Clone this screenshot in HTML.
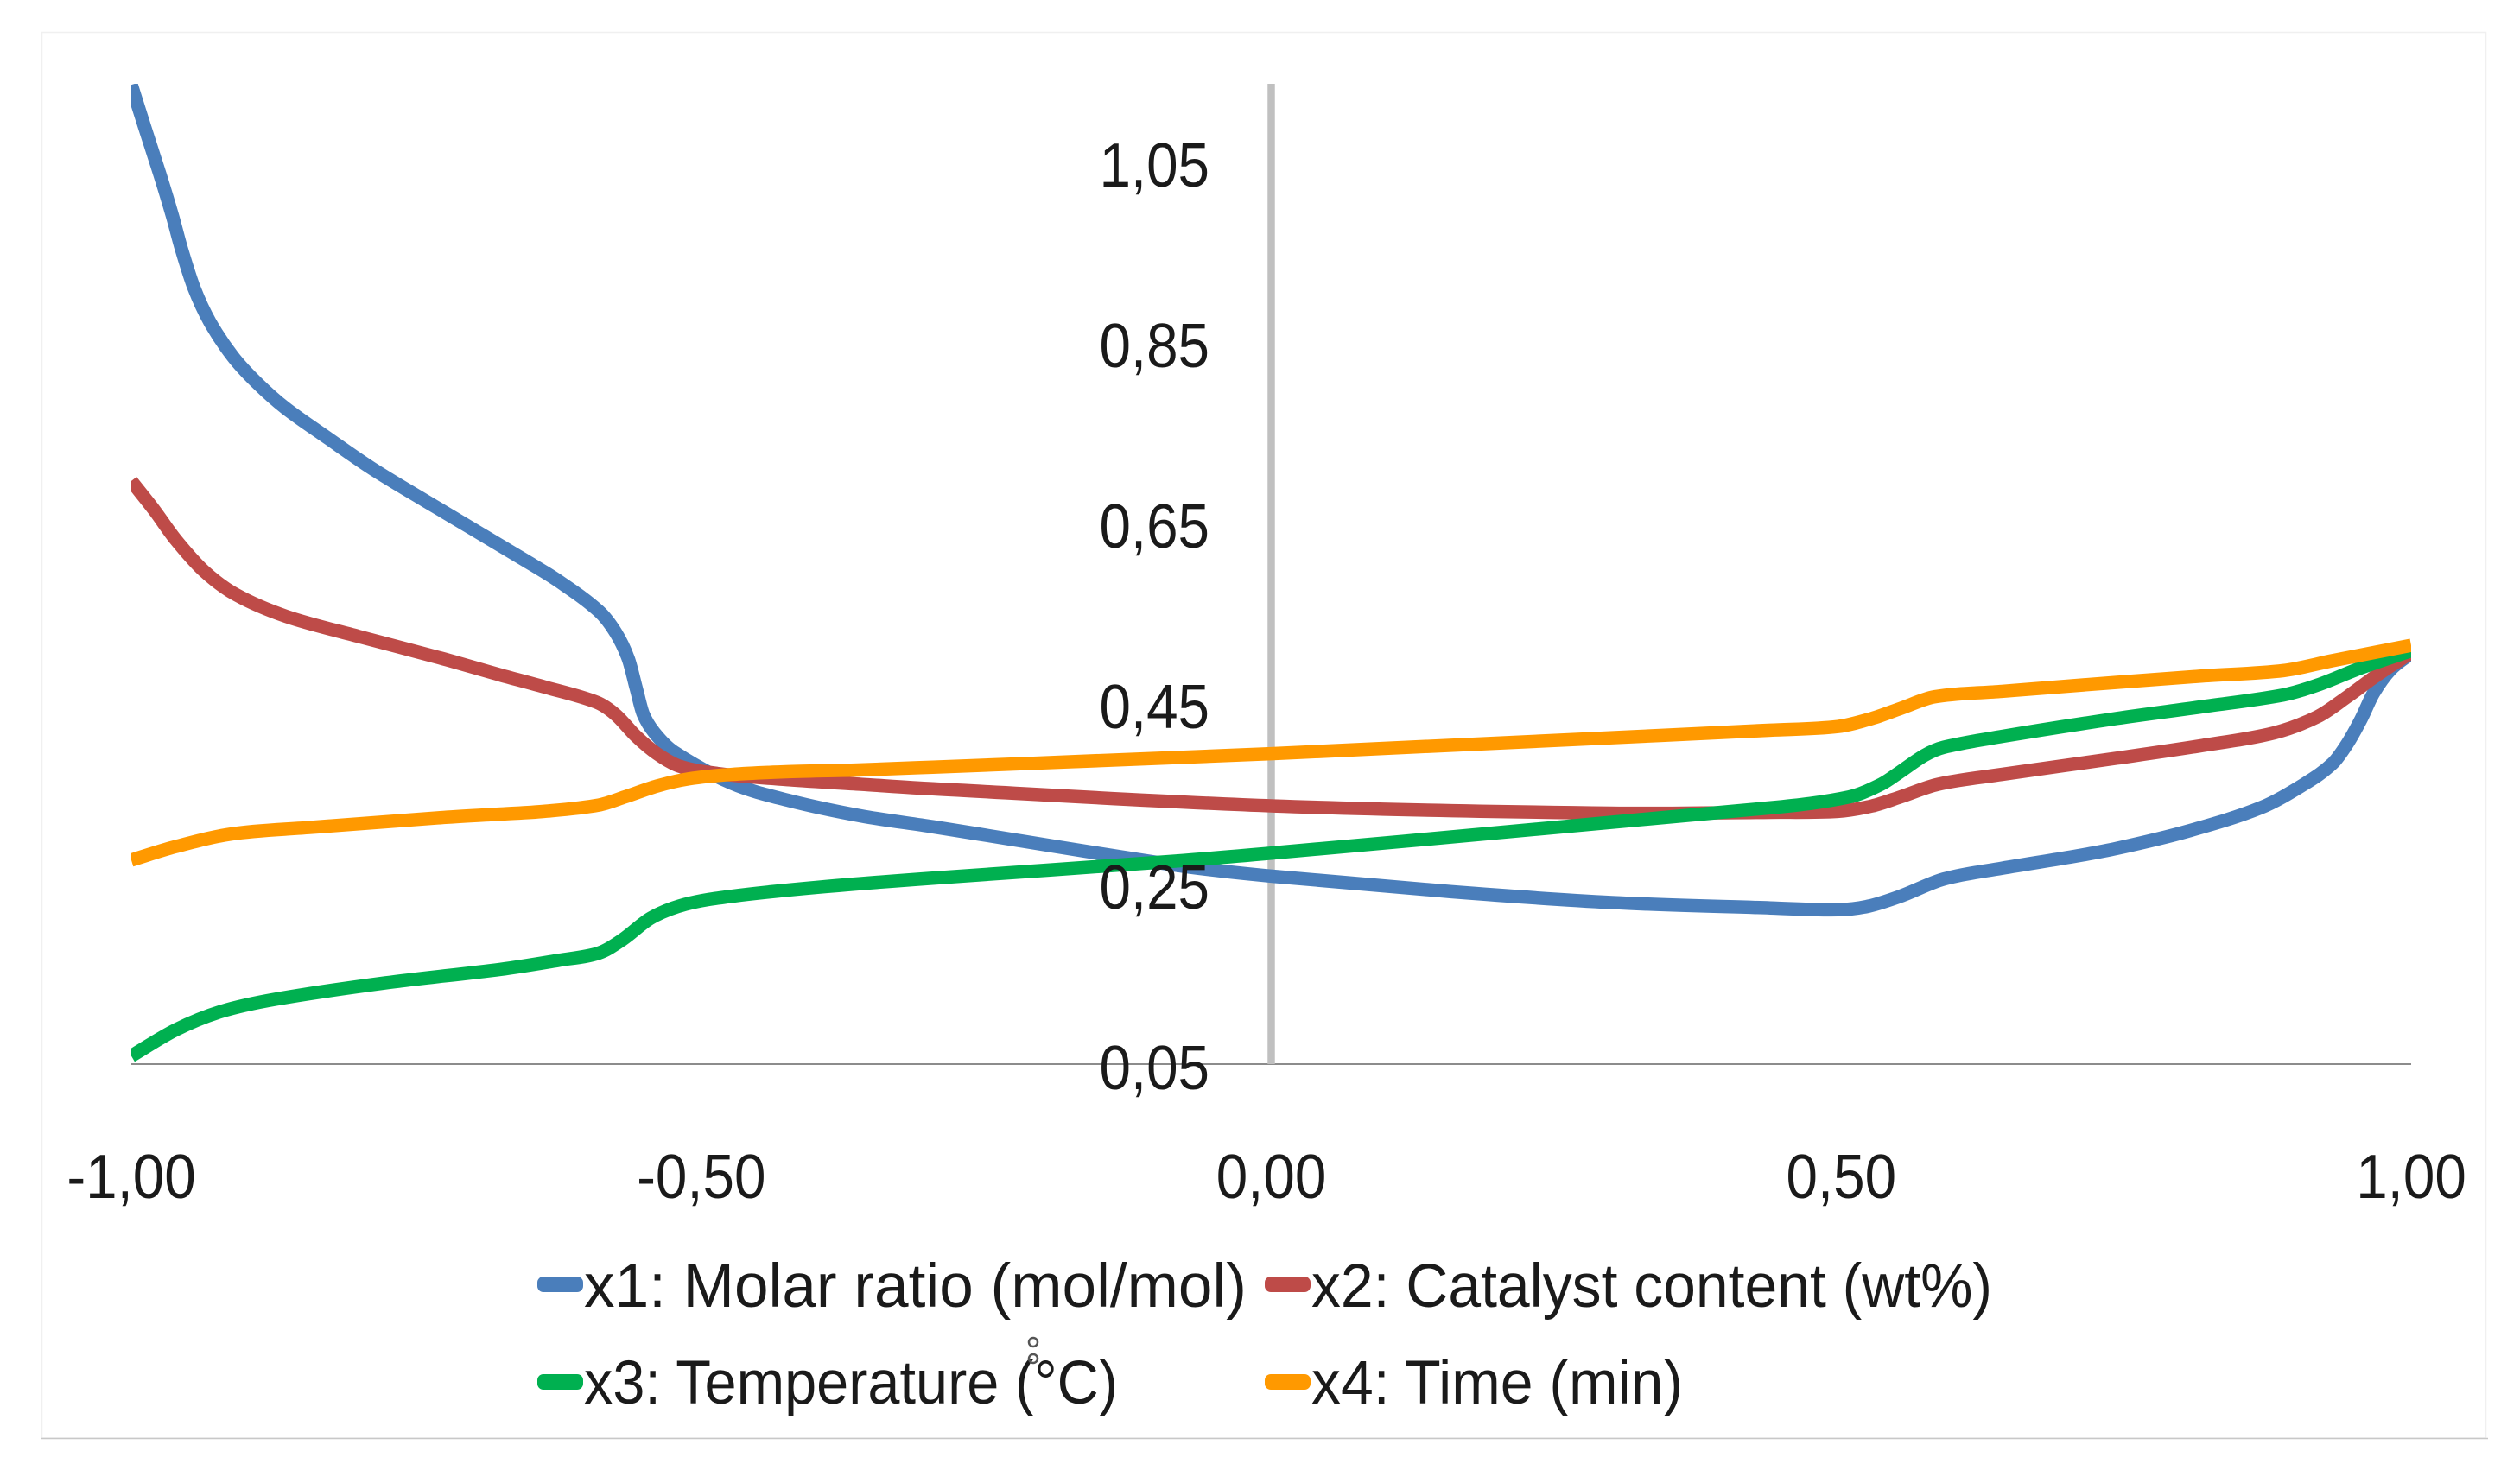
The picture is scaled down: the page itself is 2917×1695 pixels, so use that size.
<!DOCTYPE html>
<html lang="en">
<head>
<meta charset="utf-8">
<title>Factor effect chart</title>
<style>
html,body{margin:0;padding:0;background:#fff;}
svg{display:block;}
text{font-family:"Liberation Sans",sans-serif;fill:#1a1a1a;}
</style>
</head>
<body>
<svg id="chart" xmlns="http://www.w3.org/2000/svg" width="2917" height="1695" viewBox="0 0 2917 1695">
  <defs>
    <clipPath id="plot-clip"><rect x="152" y="97" width="2639" height="1136"></rect></clipPath>
  </defs>
  <rect x="0" y="0" width="2917" height="1695" fill="#ffffff"></rect>
  <rect x="48.5" y="37.5" width="2829" height="1627.5" fill="#ffffff" stroke="#f0f0f0" stroke-width="1.5"></rect>
  <line x1="48" y1="1665.5" x2="2880" y2="1665.5" stroke="#c8c8c8" stroke-width="1.5"></line>
  <g id="axes"></g>
  <g id="series" clip-path="url(#plot-clip)"></g>
  <g id="ticks"></g>
  <g>
    <g>
      <rect x="622" y="1478" width="53" height="18" rx="7" fill="#4a7ebb"></rect>
      <text x="676" y="1513" font-size="71" textLength="767" lengthAdjust="spacingAndGlyphs">x1: Molar ratio (mol/mol)</text>
    </g>
    <g>
      <rect x="1464" y="1478" width="53" height="18" rx="7" fill="#be4b48"></rect>
      <text x="1518" y="1513" font-size="71" textLength="788" lengthAdjust="spacingAndGlyphs">x2: Catalyst content (wt%)</text>
    </g>
    <g>
      <rect x="622" y="1591" width="53" height="18" rx="7" fill="#00b050"></rect>
      <text x="676" y="1625" font-size="71" textLength="618" lengthAdjust="spacingAndGlyphs">x3: Temperature (°C)</text>
      <circle cx="1196" cy="1554" r="5" fill="none" stroke="#555555" stroke-width="2.5"></circle>
      <circle cx="1196" cy="1573" r="5" fill="none" stroke="#555555" stroke-width="2.5"></circle>
    </g>
    <g>
      <rect x="1464" y="1591" width="53" height="18" rx="7" fill="#ff9900"></rect>
      <text x="1518" y="1625" font-size="71" textLength="430" lengthAdjust="spacingAndGlyphs">x4: Time (min)</text>
    </g>
  </g>
</svg>
<script>
var xTickValues = [-1, -0.5, 0, 0.5, 1];
var xTickLabels = ["-1,00", "-0,50", "0,00", "0,50", "1,00"];
var yTickValues = [0.05, 0.25, 0.45, 0.65, 0.85, 1.05];
var yTickLabels = ["0,05", "0,25", "0,45", "0,65", "0,85", "1,05"];

var x1X = [-1.000,-0.988,-0.975,-0.964,-0.956,-0.945,-0.931,-0.911,-0.890,-0.865,-0.827,-0.789,-0.742,-0.653,-0.625,-0.590,-0.575,-0.564,-0.557,-0.551,-0.541,-0.524,-0.473,-0.423,-0.360,-0.297,-0.082,0.002,0.158,0.299,0.438,0.497,0.524,0.552,0.590,0.641,0.704,0.742,0.804,0.868,0.906,0.931,0.944,0.956,0.967,0.982,1.000];
var x1Y = [1.135,1.087,1.036,0.990,0.953,0.910,0.872,0.834,0.805,0.777,0.743,0.710,0.674,0.607,0.585,0.552,0.528,0.499,0.466,0.438,0.417,0.396,0.361,0.342,0.325,0.313,0.270,0.258,0.241,0.229,0.223,0.221,0.225,0.236,0.255,0.267,0.280,0.289,0.308,0.334,0.360,0.383,0.405,0.432,0.461,0.487,0.505];

var x2X = [-1.000,-0.980,-0.961,-0.936,-0.908,-0.864,-0.801,-0.729,-0.676,-0.638,-0.592,-0.575,-0.557,-0.539,-0.519,-0.486,-0.423,-0.360,-0.297,0.002,0.299,0.438,0.497,0.527,0.552,0.585,0.641,0.742,0.817,0.880,0.918,0.944,0.969,1.000];
var x2Y = [0.696,0.664,0.631,0.596,0.570,0.546,0.524,0.500,0.481,0.468,0.451,0.437,0.413,0.394,0.380,0.372,0.365,0.360,0.355,0.336,0.328,0.329,0.330,0.336,0.346,0.360,0.371,0.389,0.403,0.417,0.435,0.457,0.480,0.506];

var x3X = [-1.000,-0.961,-0.922,-0.873,-0.777,-0.676,-0.625,-0.590,-0.569,-0.544,-0.514,-0.473,-0.397,-0.297,-0.083,0.002,0.438,0.507,0.535,0.552,0.573,0.590,0.641,0.742,0.817,0.888,0.918,0.956,1.000];
var x3Y = [0.059,0.088,0.108,0.122,0.140,0.155,0.165,0.173,0.188,0.212,0.227,0.236,0.246,0.256,0.275,0.284,0.334,0.346,0.360,0.374,0.392,0.401,0.413,0.433,0.446,0.459,0.470,0.489,0.508];

var x4X = [-1.000,-0.961,-0.912,-0.845,-0.729,-0.676,-0.638,-0.590,-0.567,-0.539,-0.511,-0.473,-0.423,-0.360,-0.297,0.002,0.438,0.497,0.527,0.552,0.582,0.641,0.742,0.817,0.888,0.931,1.000];
var x4Y = [0.276,0.291,0.305,0.312,0.323,0.327,0.330,0.337,0.346,0.358,0.366,0.371,0.374,0.376,0.379,0.394,0.420,0.424,0.433,0.444,0.457,0.463,0.473,0.480,0.486,0.497,0.514];

var SVG_NS = "http://www.w3.org/2000/svg";
function sx(v) { return 1471.5 + v * 1319.5; }
function sy(v) { return 1232 - (v - 0.05) * 1045; }

function smoothPath(xs, ys) {
  var px = xs.map(sx), py = ys.map(sy), n = px.length, d = "M" + px[0] + " " + py[0];
  function slope(i) {
    var a = Math.max(0, i - 1), b = Math.min(n - 1, i + 1);
    return (py[b] - py[a]) / (px[b] - px[a]);
  }
  for (var i = 0; i < n - 1; i++) {
    var dx = px[i + 1] - px[i];
    d += " C" + (px[i] + dx / 3) + " " + (py[i] + slope(i) * dx / 3) + " " +
         (px[i + 1] - dx / 3) + " " + (py[i + 1] - slope(i + 1) * dx / 3) + " " +
         px[i + 1] + " " + py[i + 1];
  }
  return d;
}

var axes = document.getElementById("axes");
var series = document.getElementById("series");
var ticks = document.getElementById("ticks");

var xAxis = document.createElementNS(SVG_NS, "line");


xAxis.setAttribute("x1", sx(-1));
xAxis.setAttribute("x2", sx(1));
xAxis.setAttribute("y1", sy(0.05));
xAxis.setAttribute("y2", sy(0.05));
xAxis.setAttribute("stroke", "#8c8c8c");
xAxis.setAttribute("stroke-width", "2");
axes.appendChild(xAxis);

var yAxis = document.createElementNS(SVG_NS, "line");


yAxis.setAttribute("x1", sx(0));
yAxis.setAttribute("x2", sx(0));
yAxis.setAttribute("y1", "97");
yAxis.setAttribute("y2", sy(0.05));
yAxis.setAttribute("stroke", "#c0c0c0");
yAxis.setAttribute("stroke-width", "8.5");
axes.appendChild(yAxis);

function addLine(xs, ys, color) {
  var p = document.createElementNS(SVG_NS, "path");
  p.setAttribute("d", smoothPath(xs, ys));
  p.setAttribute("fill", "none");
  p.setAttribute("stroke", color);
  p.setAttribute("stroke-width", "15.5");
  p.setAttribute("stroke-linejoin", "round");
  series.appendChild(p);
  return p;
}

var lineX1 = addLine(x1X, x1Y, "#4a7ebb");


var lineX2 = addLine(x2X, x2Y, "#be4b48");


var lineX3 = addLine(x3X, x3Y, "#00b050");


var lineX4 = addLine(x4X, x4Y, "#ff9900");



function addTick(x, y, label, anchor) {
  var t = document.createElementNS(SVG_NS, "text");
  t.textContent = label;
  t.setAttribute("x", x);
  t.setAttribute("y", y);
  t.setAttribute("font-size", "72");
  t.setAttribute("text-anchor", anchor);
  ticks.appendChild(t);
  t.setAttribute("textLength", t.getComputedTextLength() * 0.91);
  t.setAttribute("lengthAdjust", "spacingAndGlyphs");
  return t;
}

xTickValues.forEach(function (v, i) {
  var t = addTick(sx(v), 1387, xTickLabels[i], "middle");
  
  
});
yTickValues.forEach(function (v, i) {
  var t = addTick(1400, sy(v) + 29, yTickLabels[i], "end");
  
  
});
</script>
</body>
</html>
